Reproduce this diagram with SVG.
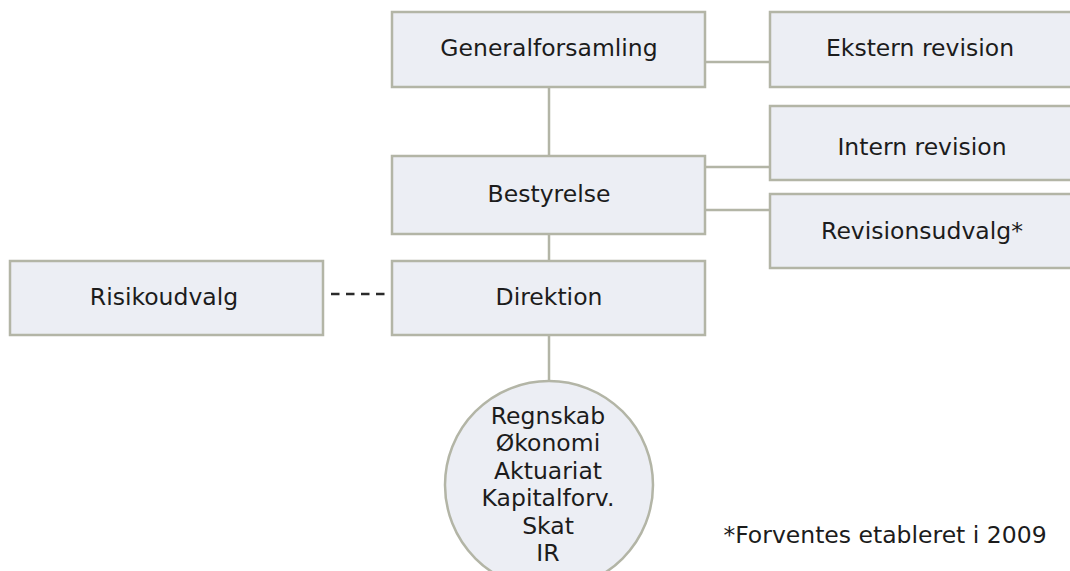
<svg xmlns="http://www.w3.org/2000/svg" width="1070" height="571" viewBox="0 0 1070 571">
<style>
.box{fill:#eceef4;stroke:#b3b5a6;stroke-width:2.5}
.lbl{font-family:"DejaVu Sans",Verdana,sans-serif;font-size:23.5px;fill:#1c1c1c;text-anchor:middle}
.con{stroke:#b3b5a6;stroke-width:2.5;fill:none}
.dash{stroke:#2a2a2a;stroke-width:2.6;stroke-dasharray:8.5 6.5;fill:none}
</style>
<rect width="1070" height="571" fill="#ffffff"/>
<g id="connectors">
<line class="con" x1="705" y1="62" x2="770" y2="62"/>
<line class="con" x1="549" y1="87" x2="549" y2="156"/>
<line class="con" x1="705" y1="167" x2="770" y2="167"/>
<line class="con" x1="705" y1="210" x2="770" y2="210"/>
<line class="con" x1="549" y1="234" x2="549" y2="260"/>
<line class="con" x1="549" y1="335" x2="549" y2="381"/>
<line class="dash" x1="331" y1="294" x2="390" y2="294"/>
</g>
<g id="generalforsamling">
<rect class="box" x="392" y="12" width="313" height="75"/>
<text class="lbl" x="549" y="56">Generalforsamling</text>
</g>
<g id="ekstern-revision">
<rect class="box" x="770" y="12" width="304" height="75"/>
<text class="lbl" x="920" y="56">Ekstern revision</text>
</g>
<g id="intern-revision">
<rect class="box" x="770" y="106" width="304" height="74"/>
<text class="lbl" x="922" y="155">Intern revision</text>
</g>
<g id="bestyrelse">
<rect class="box" x="392" y="156" width="313" height="78"/>
<text class="lbl" x="549" y="202">Bestyrelse</text>
</g>
<g id="revisionsudvalg">
<rect class="box" x="770" y="194" width="304" height="74"/>
<text class="lbl" x="922" y="239">Revisionsudvalg*</text>
</g>
<g id="risikoudvalg">
<rect class="box" x="10" y="261" width="313" height="74"/>
<text class="lbl" x="164" y="305">Risikoudvalg</text>
</g>
<g id="direktion">
<rect class="box" x="392" y="261" width="313" height="74"/>
<text class="lbl" x="549" y="305">Direktion</text>
</g>
<g id="afdelinger">
<circle class="box" cx="549" cy="485" r="104"/>
<text class="lbl" x="548" y="424">Regnskab</text>
<text class="lbl" x="548" y="451">Økonomi</text>
<text class="lbl" x="548" y="479">Aktuariat</text>
<text class="lbl" x="548" y="506">Kapitalforv.</text>
<text class="lbl" x="548" y="534">Skat</text>
<text class="lbl" x="548" y="561">IR</text>
</g>
<g id="note">
<text class="lbl" x="885" y="543">*Forventes etableret i 2009</text>
</g>
</svg>
